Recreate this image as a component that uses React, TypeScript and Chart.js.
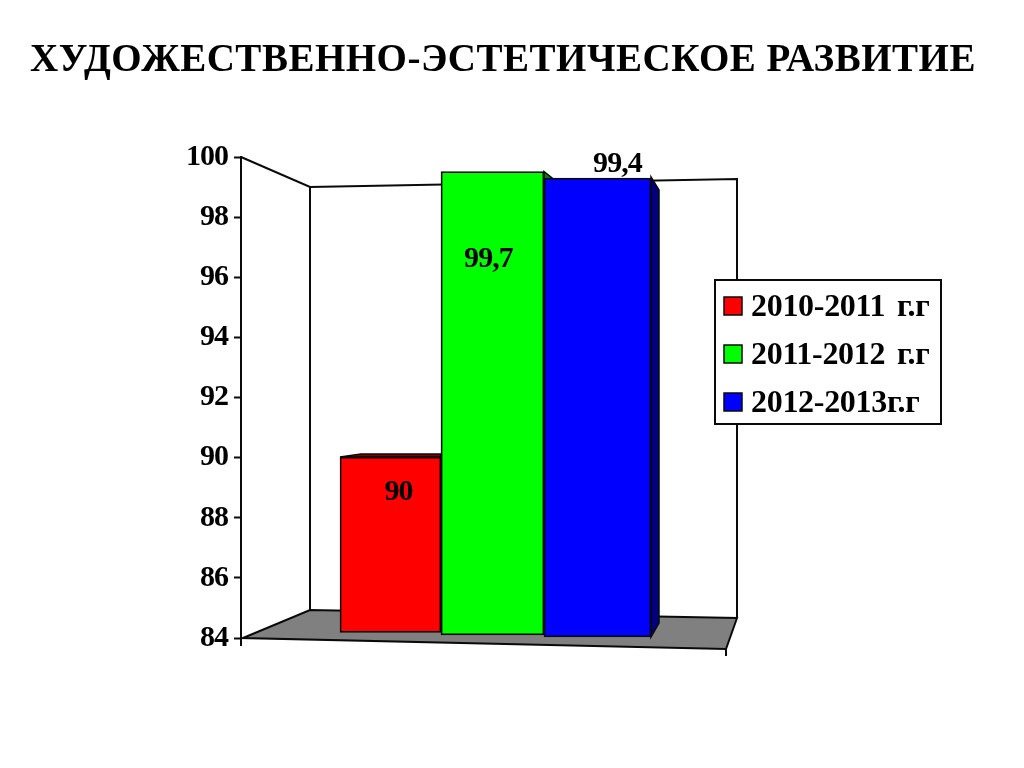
import React, { useEffect, useRef } from "react";
import { Chart, registerables } from "chart.js";

Chart.register(...registerables);

const chartTitle = "ХУДОЖЕСТВЕННО-ЭСТЕТИЧЕСКОЕ РАЗВИТИЕ";
const seriesNames = ["2010-2011 г.г", "2011-2012 г.г", "2012-2013г.г"];
const seriesLabels = ["90", "99,7", "99,4"];
const series2010 = [90];
const series2011 = [99.7];
const series2012 = [99.4];

const FONT = '"Liberation Serif", "Times New Roman", serif';
const INK = "#0a0a0a";

const line = (ctx: CanvasRenderingContext2D, pts: number[][], width = 2) => {
  ctx.beginPath();
  pts.forEach((p, i) => (i ? ctx.lineTo(p[0], p[1]) : ctx.moveTo(p[0], p[1])));
  ctx.strokeStyle = INK;
  ctx.lineWidth = width;
  ctx.stroke();
};

const poly = (ctx: CanvasRenderingContext2D, pts: number[][], fill: string, width = 1.5) => {
  ctx.beginPath();
  pts.forEach((p, i) => (i ? ctx.lineTo(p[0], p[1]) : ctx.moveTo(p[0], p[1])));
  ctx.closePath();
  ctx.fillStyle = fill;
  ctx.fill();
  ctx.strokeStyle = INK;
  ctx.lineWidth = width;
  ctx.stroke();
};

const frame3d = {
  id: "frame3d",
  afterLayout(chart: any) {
    // the title has its own tracking, separate from the axis labels
    const block = chart.titleBlock;
    if (block && !block.__tracked) {
      const draw = block.draw;
      block.draw = function (...args: any[]) {
        const ctx = this.ctx;
        const previous = ctx.letterSpacing;
        ctx.letterSpacing = "0.5px";
        draw.apply(this, args);
        ctx.letterSpacing = previous;
      };
      block.__tracked = true;
    }
  },
  beforeDraw(chart: any) {
    chart.ctx.letterSpacing = "-1px";
  },
  beforeDatasetsDraw(chart: any) {
    const ctx: CanvasRenderingContext2D = chart.ctx;
    ctx.save();
    // back wall and side wall
    line(ctx, [[241, 157], [310, 187], [737, 179], [737, 618]]);
    line(ctx, [[310, 187], [310, 610]]);
    // floor
    poly(ctx, [[243, 638], [310, 610], [737, 618], [726, 649]], "#808080", 2);
    // axis tails
    line(ctx, [[241, 638], [241, 646]]);
    line(ctx, [[726, 649], [726, 656]]);
    // depth faces of the bars, taken from the bars' own geometry
    const red = chart.getDatasetMeta(0).data[0];
    const green = chart.getDatasetMeta(1).data[0];
    const blue = chart.getDatasetMeta(2).data[0];
    const rx0 = red.x - red.width / 2;
    const rx1 = red.x + red.width / 2;
    poly(ctx, [[rx0, red.y], [rx0 + 21, red.y - 3], [rx1, red.y - 3], [rx1, red.y]], "#800000");
    const gx1 = green.x + green.width / 2;
    poly(ctx, [[gx1, green.y], [gx1 + 10, green.y + 8], [gx1, green.y + 8]], "#008000");
    const bx1 = blue.x + blue.width / 2;
    poly(ctx, [[bx1, blue.y - 1], [bx1 + 8, blue.y + 12], [bx1 + 8, blue.base - 14], [bx1, blue.base]], "#000080");
    ctx.restore();
  },
  afterDatasetsDraw(chart: any) {
    const ctx: CanvasRenderingContext2D = chart.ctx;
    ctx.save();
    // value labels
    const labelOffsets = [[8, 35], [-4, 88], [20, -14]];
    ctx.font = `bold 30px ${FONT}`;
    ctx.textAlign = "center";
    ctx.textBaseline = "middle";
    ctx.fillStyle = "#000";
    (ctx as any).letterSpacing = "-0.9px";
    seriesLabels.forEach((text, i) => {
      const bar = chart.getDatasetMeta(i).data[0];
      ctx.fillText(text, bar.x + labelOffsets[i][0], bar.y + labelOffsets[i][1]);
    });
    // legend
    ctx.fillStyle = "#fff";
    ctx.strokeStyle = INK;
    ctx.lineWidth = 2;
    ctx.fillRect(715, 280, 226, 144);
    ctx.strokeRect(715, 280, 226, 144);
    const rows = [306, 354, 402];
    chart.data.datasets.forEach((ds: any, i: number) => {
      ctx.fillStyle = ds.backgroundColor;
      ctx.lineWidth = 1.5;
      ctx.fillRect(724, rows[i] - 9, 18, 18);
      ctx.strokeRect(724, rows[i] - 9, 18, 18);
      ctx.fillStyle = "#000";
      ctx.font = `bold 32px ${FONT}`;
      ctx.textAlign = "left";
      ctx.textBaseline = "middle";
      (ctx as any).letterSpacing = "-0.3px";
      (ctx as any).wordSpacing = "4px";
      ctx.fillText(ds.label, 751, rows[i] + 2);
      (ctx as any).wordSpacing = "0px";
    });
    ctx.restore();
  },
};

export default function App() {
  const ref = useRef<HTMLCanvasElement>(null);
  useEffect(() => {
    if (!ref.current) return;
    const bar = (label: string, values: number[], color: string, xAxisID: string, yAxisID: string, width: number) => ({
      label,
      data: values.map((y) => ({ x: 0, y })),
      backgroundColor: color,
      borderColor: INK,
      borderWidth: 1.75,
      borderSkipped: false,
      base: 84,
      grouped: false,
      barPercentage: 1,
      categoryPercentage: 1,
      maxBarThickness: width,
      xAxisID,
      yAxisID,
    });
    const hiddenX = (min: number, max: number) => ({
      type: "linear",
      display: false,
      offset: false,
      min,
      max,
      ticks: { stepSize: 1 },
    });
    const hiddenY = (min: number, max: number) => ({ type: "linear", display: false, min, max });
    const chart = new Chart(ref.current, {
      type: "bar",
      data: {
        datasets: [
          bar(seriesNames[0], series2010, "#ff0000", "xRed", "yRed", 101),
          bar(seriesNames[1], series2011, "#00ff00", "xGreen", "yGreen", 103),
          bar(seriesNames[2], series2012, "#0000ff", "xBlue", "yBlue", 107),
        ] as any,
      },
      plugins: [frame3d],
      options: {
        responsive: false,
        animation: false,
        events: [],
        layout: { padding: { left: 0, right: 18, top: 0, bottom: 130 } },
        plugins: {
          legend: { display: false },
          tooltip: { enabled: false },
          title: {
            display: true,
            text: chartTitle,
            color: "#000",
            font: { family: FONT, size: 39, weight: "bold", lineHeight: 1.2 },
            padding: { top: 37.5, bottom: 72.7 },
          },
        },
        scales: {
          y: {
            type: "linear",
            position: "left",
            min: 84,
            max: 100,
            afterFit: (s: any) => { s.width = 241; },
            ticks: {
              stepSize: 2,
              color: "#000",
              padding: 6,
              font: { family: FONT, size: 30, weight: "bold" },
            },
            grid: { drawOnChartArea: false, tickLength: 7, tickColor: INK, tickWidth: 2 },
            border: { color: INK, width: 2 },
          },
          spacer: {
            type: "linear",
            position: "right",
            ticks: { display: false },
            grid: { display: false },
            border: { display: false },
            afterFit: (s: any) => { s.width = 256; },
          },
          yRed: hiddenY(83.812, 100.256),
          yGreen: hiddenY(83.898, 100.192),
          yBlue: hiddenY(83.966, 100.104),
          xRed: hiddenX(-0.2937, 0.7063),
          xGreen: hiddenX(-0.4941, 0.5059),
          xBlue: hiddenX(-0.7004, 0.2996),
        } as any,
      },
    });
    return () => chart.destroy();
  }, []);
  return (
    <div style={{ position: "fixed", left: 0, top: 0, width: 1024, height: 768, background: "#fff" }}>
      <canvas ref={ref} width={1024} height={768} style={{ display: "block" }} />
    </div>
  );
}
